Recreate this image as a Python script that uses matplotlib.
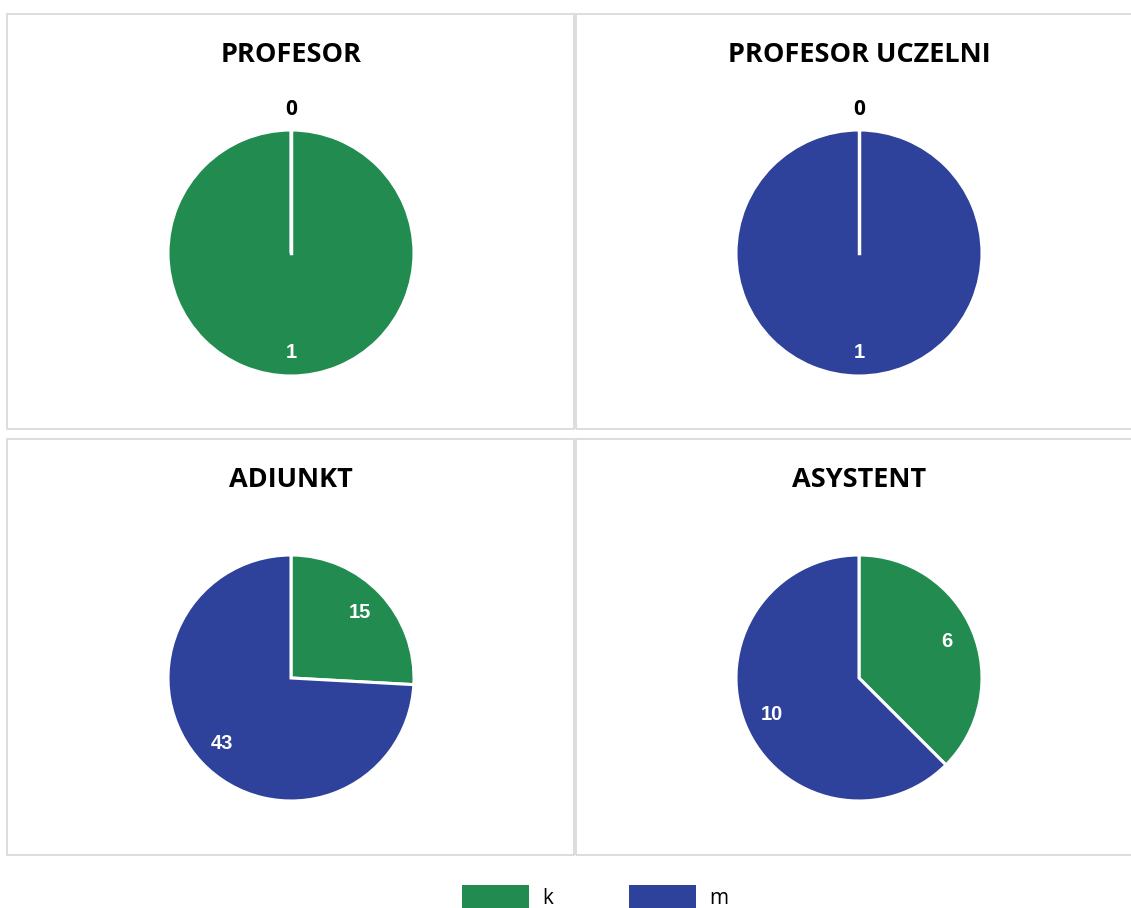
import numpy as np
import matplotlib.pyplot as plt
from matplotlib.patches import Rectangle

# Data
titles = ['PROFESOR', 'PROFESOR UCZELNI', 'ADIUNKT', 'ASYSTENT']
k_values = [1, 0, 15, 6]
m_values = [0, 1, 43, 10]
series = ['k', 'm']
colors = ['#228C50', '#2E419B']

W, H = 1131, 908
fig = plt.figure(figsize=(W / 100, H / 100), dpi=100)
fig.patch.set_facecolor('white')


def px_box(x0, y0, x1, y1):
    # pixel box (top-left origin) -> figure fraction rect
    return [x0 / W, 1 - y1 / H, (x1 - x0) / W, (y1 - y0) / H]


# panel frames
frames = [(7, 14, 574, 429), (576, 14, 1140, 429),
          (7, 439, 574, 855), (576, 439, 1140, 855)]
for x0, y0, x1, y1 in frames:
    fig.patches.append(Rectangle((x0 / W, 1 - y1 / H), (x1 - x0) / W, (y1 - y0) / H,
                                 transform=fig.transFigure, fill=False,
                                 edgecolor='#dadada', linewidth=1.3))

centers = [(291, 253), (859, 253), (291, 678), (859, 678)]
title_y = [55, 55, 480, 480]
r = 123

for i, title in enumerate(titles):
    cx, cy = centers[i]
    ax = fig.add_axes(px_box(cx - r, cy - r, cx + r, cy + r))
    vals = [k_values[i], m_values[i]]
    wedges, texts = ax.pie(vals, colors=colors, startangle=90, counterclock=False,
                           labels=[str(v) for v in vals], labeldistance=0.77,
                           wedgeprops=dict(edgecolor='white', linewidth=2.2),
                           textprops=dict(color='white', fontsize=14.5,
                                          fontweight='bold', family='Liberation Sans'))
    for t, v in zip(texts, vals):
        t.set_ha('center')
        t.set_va('center')
        if v == 0:
            t.set_position((0, 1.17))
            t.set_color('black')
            t.set_family('Open Sans')
            t.set_fontsize(15)
        elif v == sum(vals):
            t.set_position((0, -0.81))
    # white divider line at the top for the zero slice
    if 0 in vals:
        ax.plot([0, 0], [0, 1], color='white', linewidth=2.5)
    ax.set_xlim(-1, 1)
    ax.set_ylim(-1, 1)
    ax.set_aspect('equal')
    ax.axis('off')
    fig.text(cx / W, 1 - title_y[i] / H, title, ha='center', va='center',
             fontsize=19.5, fontweight='bold', family='Open Sans')

# legend
leg_x = [462, 629]
for j, name in enumerate(series):
    x0 = leg_x[j]
    fig.patches.append(Rectangle((x0 / W, 1 - 910 / H), 67 / W, 25 / H,
                                 transform=fig.transFigure, facecolor=colors[j],
                                 edgecolor='none'))
    fig.text((x0 + 80) / W, 1 - 899 / H, name, ha='left', va='center',
             fontsize=15, family='Open Sans')

fig.savefig('out.png', dpi=100, facecolor='white')
